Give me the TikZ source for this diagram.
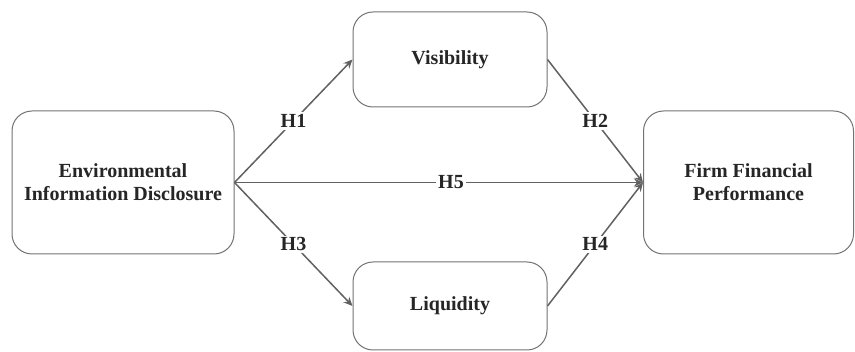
\documentclass[tikz,border=0pt]{standalone}
\usepackage{fontspec}
\setmainfont{Liberation Serif}
\usetikzlibrary{arrows.meta}
\begin{document}
\begin{tikzpicture}[x=1pt,y=-1pt,
  box/.style={draw=black!55, line width=1pt, rounded corners=20pt, fill=white,
    align=center, font=\fontsize{20}{23}\selectfont\bfseries, text=black!85, inner sep=0pt},
  link/.style={draw=black!62, line width=1.5pt, -{Stealth[length=9pt,width=8pt,inset=3pt]}},
  lbl/.style={fill=white, font=\fontsize{20}{23}\selectfont\bfseries, text=black!85, inner sep=2pt}]
\useasboundingbox (0,0) rectangle (855,352);
\node[box, minimum width=222pt, minimum height=143pt] (eid) at (123,182.5) {Environmental\\Information Disclosure};
\node[box, minimum width=210pt, minimum height=143pt] (ffp) at (748.5,182.5) {Firm Financial\\Performance};
\node[box, minimum width=194pt, minimum height=95pt] (vis) at (450,59.5) {Visibility};
\node[box, minimum width=194pt, minimum height=88pt] (liq) at (450,306) {Liquidity};
\draw[link] (eid.east) -- node[lbl, pos=0.5] {H1} (vis.west);
\draw[link] (vis.east) -- node[lbl, pos=0.5] {H2} (ffp.west);
\draw[link] (eid.east) -- node[lbl, pos=0.53] {H5} (ffp.west);
\draw[link] (eid.east) -- node[lbl, pos=0.5] {H3} (liq.west);
\draw[link] (liq.east) -- node[lbl, pos=0.5] {H4} (ffp.west);
\end{tikzpicture}
\end{document}
